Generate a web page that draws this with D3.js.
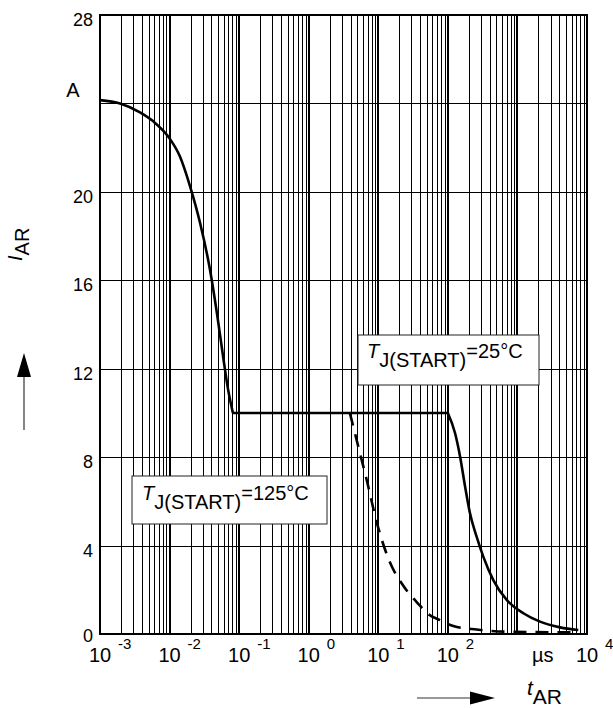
<!DOCTYPE html>
<html>
<head>
<meta charset="utf-8">
<script src="https://cdn.jsdelivr.net/npm/d3@7/dist/d3.min.js"></script>
<style>
  body { margin: 0; background: #fff; }
  text { font-family: Arial, "Liberation Sans", sans-serif; fill: #000; }
</style>
</head>
<body>
<script>
// Avalanche current vs. avalanche time
const yTicks = [0, 4, 8, 12, 16, 20, 24, 28];
const yLabelled = [0, 4, 8, 12, 16, 20, 28];    // 24 carries the unit "A" instead
const xLabelExps = [-3, -2, -1, 0, 1, 2, 4];    // 10^3 gets no label, "µs" sits there instead

// start of the curve, shared by both temperatures
const rollT = [0.001, 0.00194, 0.00376, 0.00578, 0.0101, 0.0141, 0.0197, 0.0274, 0.038, 0.048, 0.0585, 0.069, 0.0814];
const rollI = [24.15, 24.0, 23.6, 23.2, 22.4, 21.6, 20.25, 18.6, 16.5, 14.5, 12.6, 11.1, 10.0];
const limitI = 10;

// Tj(START) = 25°C tail
const tail25T = [100, 127, 150, 177, 208, 259, 323, 450, 701, 1217, 2113, 4100, 7500];
const tail25I = [10, 9.08, 8.02, 6.66, 5.46, 4.4, 3.5, 2.44, 1.54, 0.94, 0.56, 0.3, 0.18];

// Tj(START) = 125°C tail (dashed)
const tail125T = [3.9, 5.14, 6.78, 9.5, 14.7, 22.9, 39.8, 50, 77, 120, 259, 776, 7080];
const tail125I = [10, 8.5, 7.0, 5.05, 3.24, 2.18, 1.28, 0.95, 0.63, 0.36, 0.2, 0.1, 0.07];

const W = 613, H = 708;
const pLeft = 100, pRight = 587, pTop = 15, pBottom = 634;

const svg = d3.select("body").append("svg")
    .attr("width", W)
    .attr("height", H);

const x = d3.scaleLog().domain([1e-3, 1e4]).range([pLeft, pRight]);
const y = d3.scaleLinear().domain([0, 28]).range([pBottom, pTop]);

// grid: every 1..9 in each decade
const isDecade = v => Math.abs(Math.log10(v) - Math.round(Math.log10(v))) < 1e-9;
const grid = svg.append("g")
    .attr("stroke", "#000")
    .attr("shape-rendering", "crispEdges");

grid.selectAll("line.v")
  .data(x.ticks())
  .enter().append("line")
    .attr("class", "v")
    .attr("x1", d => Math.round(x(d))).attr("x2", d => Math.round(x(d)))
    .attr("y1", pTop).attr("y2", pBottom)
    .attr("stroke-width", d => isDecade(d) ? 2 : 1);

grid.selectAll("line.h")
  .data(yTicks.slice(1, -1))
  .enter().append("line")
    .attr("class", "h")
    .attr("x1", pLeft).attr("x2", pRight)
    .attr("y1", d => Math.round(y(d))).attr("y2", d => Math.round(y(d)))
    .attr("stroke-width", 1);

grid.append("rect")
    .attr("x", pLeft).attr("y", pTop)
    .attr("width", pRight - pLeft).attr("height", pBottom - pTop)
    .attr("fill", "none").attr("stroke-width", 2);

// y tick labels
svg.append("g").selectAll("text")
  .data(yLabelled)
  .enter().append("text")
    .attr("x", 93)
    .attr("y", d => y(d) + (d === 0 ? 8 : 11))
    .attr("text-anchor", "end")
    .attr("font-size", 18)
    .text(d => d);

svg.append("text")
    .attr("x", 73).attr("y", 97)
    .attr("text-anchor", "middle")
    .attr("font-size", 20)
    .text("A");

// x tick labels: "10" centred on the decade, exponent to the right
const xl = svg.append("g").selectAll("g")
  .data(xLabelExps)
  .enter().append("g");
xl.append("text")
    .attr("x", d => x(Math.pow(10, d)))
    .attr("y", 662)
    .attr("text-anchor", "middle")
    .attr("font-size", 20)
    .text("10");
xl.append("text")
    .attr("x", d => x(Math.pow(10, d)) + 18)
    .attr("y", 649)
    .attr("font-size", 15)
    .text(d => d < 0 ? "-" + (-d) : d);

svg.append("text")
    .attr("x", 532).attr("y", 662)
    .attr("font-size", 20)
    .text("µs");

// curves
const line = d3.line()
    .x(d => x(d[0]))
    .y(d => y(d[1]))
    .curve(d3.curveMonotoneX);

const curves = svg.append("g")
    .attr("fill", "none")
    .attr("stroke", "#000")
    .attr("stroke-width", 2.6);

curves.append("path")
    .attr("d", line(d3.zip(rollT, rollI)));

curves.append("path")
    .attr("d", line([[rollT[rollT.length - 1], limitI], [tail25T[0], limitI]]));

curves.append("path")
    .attr("d", line(d3.zip(tail25T, tail25I)));

curves.append("path")
    .attr("stroke-dasharray", "13,9")
    .attr("d", line(d3.zip(tail125T, tail125I)));

// labels in boxes
function tjLabel(bx, by, bw, bh, tx, ty, temp) {
  svg.append("rect")
      .attr("x", bx).attr("y", by)
      .attr("width", bw).attr("height", bh)
      .attr("fill", "#fff")
      .attr("stroke", "#222")
      .attr("stroke-width", 1);
  const t = svg.append("text")
      .attr("x", tx).attr("y", ty)
      .attr("font-size", 20);
  t.append("tspan").attr("font-style", "italic").text("T");
  t.append("tspan").attr("dy", 9).text("J(START)");
  t.append("tspan").attr("dy", -9).text("=" + temp + "°C");
}
tjLabel(358, 335, 181, 50, 367, 358, 25);
tjLabel(132, 476, 195, 48, 142, 500, 125);

// axis titles with arrows
const yt = svg.append("text")
    .attr("transform", "translate(22,261) rotate(-90)")
    .attr("font-size", 20);
yt.append("tspan").attr("font-style", "italic").text("I");
yt.append("tspan").attr("dy", 7).text("AR");

svg.append("line")
    .attr("x1", 24).attr("x2", 24)
    .attr("y1", 430).attr("y2", 376)
    .attr("stroke", "#333").attr("stroke-width", 1.2);
svg.append("path")
    .attr("d", "M24,353 L17,377 L31,377 Z")
    .attr("fill", "#000");

const xt = svg.append("text")
    .attr("x", 527).attr("y", 695)
    .attr("font-size", 21);
xt.append("tspan").attr("font-style", "italic").text("t");
xt.append("tspan").attr("dy", 9).text("AR");

svg.append("line")
    .attr("x1", 417).attr("x2", 472)
    .attr("y1", 698).attr("y2", 698)
    .attr("stroke", "#333").attr("stroke-width", 1.2);
svg.append("path")
    .attr("d", "M495,698 L470,691.5 L470,704.5 Z")
    .attr("fill", "#000");
</script>
</body>
</html>
